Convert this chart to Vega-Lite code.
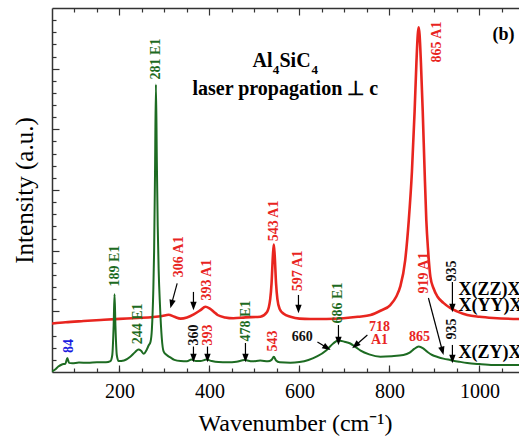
{
  "$schema": "https://vega.github.io/schema/vega-lite/v6.json",
  "width": 467,
  "height": 364,
  "autosize": {"type": "none"},
  "padding": {"left": 52, "top": 8, "right": 0, "bottom": 65},
  "background": "white",
  "config": {"view": {"stroke": null}, "axis": {"grid": false}, "font": "Liberation Serif"},
  "resolve": {"axis": {"x": "independent", "y": "independent"}},
  "datasets": {
    "red": [
      {"wn": 50, "val": 4.0}, {"wn": 80, "val": 4.1}, {"wn": 120, "val": 4.2}, {"wn": 158, "val": 4.29},
      {"wn": 200, "val": 4.38}, {"wn": 240, "val": 4.45}, {"wn": 275, "val": 4.53}, {"wn": 295, "val": 4.62},
      {"wn": 309, "val": 4.72}, {"wn": 322, "val": 4.55}, {"wn": 336, "val": 4.4}, {"wn": 350, "val": 4.5},
      {"wn": 365, "val": 4.75}, {"wn": 380, "val": 5.1}, {"wn": 391, "val": 5.38}, {"wn": 400, "val": 5.25},
      {"wn": 410, "val": 4.95}, {"wn": 418, "val": 4.7}, {"wn": 435, "val": 4.5}, {"wn": 453, "val": 4.43},
      {"wn": 480, "val": 4.5}, {"wn": 513, "val": 4.56}, {"wn": 528, "val": 4.95}, {"wn": 535, "val": 6.0},
      {"wn": 538, "val": 7.3}, {"wn": 541, "val": 9.6}, {"wn": 543, "val": 10.5}, {"wn": 545, "val": 9.6},
      {"wn": 548, "val": 7.3}, {"wn": 551, "val": 6.0}, {"wn": 556, "val": 5.2}, {"wn": 565, "val": 4.8},
      {"wn": 580, "val": 4.56}, {"wn": 600, "val": 4.4}, {"wn": 624, "val": 4.37}, {"wn": 660, "val": 4.37},
      {"wn": 698, "val": 4.43}, {"wn": 730, "val": 4.55}, {"wn": 758, "val": 4.7}, {"wn": 780, "val": 5.05},
      {"wn": 802, "val": 5.52}, {"wn": 815, "val": 6.2}, {"wn": 824, "val": 7.03}, {"wn": 835, "val": 9.2},
      {"wn": 843, "val": 12.5}, {"wn": 850, "val": 16.5}, {"wn": 856, "val": 21.5}, {"wn": 860, "val": 25.5},
      {"wn": 863, "val": 27.8}, {"wn": 865, "val": 28.4}, {"wn": 867, "val": 27.8}, {"wn": 870, "val": 25.5},
      {"wn": 874, "val": 21.5}, {"wn": 878, "val": 16.8}, {"wn": 882, "val": 12.5}, {"wn": 886, "val": 10.0},
      {"wn": 891, "val": 7.86}, {"wn": 898, "val": 6.9}, {"wn": 907, "val": 6.2}, {"wn": 920, "val": 5.7},
      {"wn": 935, "val": 5.28}, {"wn": 950, "val": 5.0}, {"wn": 973, "val": 4.7}, {"wn": 1000, "val": 4.55},
      {"wn": 1031, "val": 4.45}, {"wn": 1088, "val": 4.37}, {"wn": 1150, "val": 4.35}
    ],
    "green": [
      {"wn": 50, "val": 0.05}, {"wn": 57, "val": 0.2}, {"wn": 64, "val": 0.45}, {"wn": 72, "val": 0.62},
      {"wn": 80, "val": 0.7}, {"wn": 84, "val": 1.15}, {"wn": 88, "val": 0.75}, {"wn": 95, "val": 0.72},
      {"wn": 110, "val": 0.78}, {"wn": 130, "val": 0.76}, {"wn": 150, "val": 0.8}, {"wn": 170, "val": 0.8},
      {"wn": 180, "val": 0.9}, {"wn": 184, "val": 1.4}, {"wn": 187, "val": 3.8}, {"wn": 189, "val": 6.4},
      {"wn": 191, "val": 3.8}, {"wn": 194, "val": 1.4}, {"wn": 198, "val": 0.9}, {"wn": 210, "val": 0.95},
      {"wn": 224, "val": 1.26}, {"wn": 235, "val": 1.65}, {"wn": 242, "val": 1.85}, {"wn": 248, "val": 1.75},
      {"wn": 254, "val": 1.5}, {"wn": 260, "val": 1.8}, {"wn": 265, "val": 2.2}, {"wn": 269, "val": 2.5},
      {"wn": 272, "val": 3.5}, {"wn": 275, "val": 6.5}, {"wn": 277, "val": 10}, {"wn": 279, "val": 16.5},
      {"wn": 281, "val": 23.7}, {"wn": 283, "val": 17.5}, {"wn": 285, "val": 12}, {"wn": 287, "val": 8.5},
      {"wn": 290, "val": 5.5}, {"wn": 294, "val": 2.8}, {"wn": 298, "val": 1.7}, {"wn": 305, "val": 1.4},
      {"wn": 313, "val": 1.2}, {"wn": 322, "val": 1.0}, {"wn": 336, "val": 0.9}, {"wn": 350, "val": 0.88},
      {"wn": 360, "val": 1.02}, {"wn": 370, "val": 0.9}, {"wn": 380, "val": 0.9}, {"wn": 393, "val": 1.02},
      {"wn": 405, "val": 0.9}, {"wn": 420, "val": 0.82}, {"wn": 440, "val": 0.8}, {"wn": 460, "val": 0.85},
      {"wn": 478, "val": 0.98}, {"wn": 495, "val": 0.88}, {"wn": 513, "val": 0.95}, {"wn": 530, "val": 0.88},
      {"wn": 538, "val": 1.0}, {"wn": 543, "val": 1.25}, {"wn": 548, "val": 0.95}, {"wn": 556, "val": 0.8},
      {"wn": 580, "val": 0.76}, {"wn": 600, "val": 0.82}, {"wn": 620, "val": 0.99}, {"wn": 640, "val": 1.3},
      {"wn": 660, "val": 1.8}, {"wn": 675, "val": 2.35}, {"wn": 686, "val": 2.6}, {"wn": 700, "val": 2.5},
      {"wn": 713, "val": 2.35}, {"wn": 725, "val": 2.05}, {"wn": 736, "val": 1.76}, {"wn": 755, "val": 1.45},
      {"wn": 780, "val": 1.26}, {"wn": 805, "val": 1.3}, {"wn": 831, "val": 1.4}, {"wn": 845, "val": 1.6},
      {"wn": 855, "val": 1.9}, {"wn": 865, "val": 2.1}, {"wn": 875, "val": 1.95}, {"wn": 884, "val": 1.67},
      {"wn": 895, "val": 1.4}, {"wn": 907, "val": 1.24}, {"wn": 920, "val": 1.1}, {"wn": 935, "val": 0.99},
      {"wn": 955, "val": 0.85}, {"wn": 973, "val": 0.74}, {"wn": 1000, "val": 0.65}, {"wn": 1031, "val": 0.58},
      {"wn": 1060, "val": 0.57}, {"wn": 1100, "val": 0.57}, {"wn": 1150, "val": 0.57}
    ],
    "vlab": [
      {"label": "84", "wn": 87.3, "val": 2.14, "mode": "low"},
      {"label": "189 E1", "wn": 189.3, "val": 8.74, "mode": "E1"},
      {"label": "244 E1", "wn": 242.2, "val": 3.96, "mode": "E1"},
      {"label": "281 E1", "wn": 281.3, "val": 25.8, "mode": "E1"},
      {"label": "306 A1", "wn": 332.7, "val": 9.5, "mode": "A1"},
      {"label": "360", "wn": 366.7, "val": 3.05, "mode": "ref"},
      {"label": "393 A1", "wn": 395.6, "val": 7.58, "mode": "A1"},
      {"label": "393", "wn": 396.7, "val": 3.05, "mode": "A1"},
      {"label": "478 E1", "wn": 482.2, "val": 4.2, "mode": "E1"},
      {"label": "543", "wn": 542, "val": 2.56, "mode": "A1"},
      {"label": "543 A1", "wn": 544.4, "val": 12.45, "mode": "A1"},
      {"label": "597 A1", "wn": 597.8, "val": 8.33, "mode": "A1"},
      {"label": "686 E1", "wn": 686.7, "val": 5.69, "mode": "E1"},
      {"label": "919 A1", "wn": 876.2, "val": 8.16, "mode": "A1"},
      {"label": "935", "wn": 938.9, "val": 8.33, "mode": "ref"},
      {"label": "935", "wn": 938.9, "val": 3.55, "mode": "ref"},
      {"label": "865 A1", "wn": 905.9, "val": 27.2, "mode": "A1"}
    ],
    "hlab": [
      {"label": "660", "wn": 606, "val": 2.89, "mode": "ref"},
      {"label": "718", "wn": 777.8, "val": 3.75, "mode": "A1"},
      {"label": "A1", "wn": 777.8, "val": 2.62, "mode": "A1"},
      {"label": "865", "wn": 866.7, "val": 2.89, "mode": "A1"}
    ],
    "leg": [
      {"label": "X(ZZ)X", "wn": 953.3, "val": 6.78},
      {"label": "X(YY)X", "wn": 953.3, "val": 5.42},
      {"label": "X(ZY)X", "wn": 953.3, "val": 1.57},
      {"label": "(b)", "wn": 1028.9, "val": 27.78}
    ],
    "ttl": [
      {"label": "Al", "wn": 495.6, "val": 25.14},
      {"label": "SiC", "wn": 555.6, "val": 25.14},
      {"label": "laser propagation ⊥ c", "wn": 362.2, "val": 22.84}
    ],
    "sub": [
      {"label": "4", "wn": 540.5, "val": 24.6},
      {"label": "4", "wn": 626.7, "val": 24.6}
    ],
    "arrows": [
      {"wn": 364.4, "val": 6.6, "hx": 364.4, "hy": 5.44, "dir": 180},
      {"wn": 364.4, "val": 2.1, "hx": 364.4, "hy": 1.15, "dir": 180},
      {"wn": 395.6, "val": 2.1, "hx": 395.6, "hy": 1.15, "dir": 180},
      {"wn": 480, "val": 2.39, "hx": 480, "hy": 1.15, "dir": 180},
      {"wn": 597.8, "val": 6.35, "hx": 597.8, "hy": 5.19, "dir": 180},
      {"wn": 686.7, "val": 3.87, "hx": 686.7, "hy": 2.56, "dir": 180},
      {"wn": 940, "val": 7.42, "hx": 940, "hy": 5.28, "dir": 180},
      {"wn": 940, "val": 2.23, "hx": 940, "hy": 1.07, "dir": 180},
      {"wn": 328.2, "val": 7.31, "hx": 315.6, "hy": 5.6, "dir": 195},
      {"wn": 640, "val": 2.47, "hx": 661.3, "hy": 1.99, "dir": 122},
      {"wn": 751, "val": 3.05, "hx": 724.4, "hy": 2.19, "dir": 229},
      {"wn": 886.7, "val": 6.1, "hx": 917.8, "hy": 1.73, "dir": 165}
    ]
  },
  "layer": [
    {
      "data": {"name": "red"},
      "mark": {"type": "line", "color": "#e8251f", "strokeWidth": 2.6, "interpolate": "monotone", "clip": true},
      "encoding": {
        "x": {"field": "wn", "type": "quantitative", "scale": {"domain": [50, 1088], "nice": false, "zero": false},
          "axis": {"orient": "bottom", "values": [200, 400, 600, 800, 1000], "format": "d", "ticks": false, "domain": true, "domainColor": "#333", "domainWidth": 1.5,
            "labelFont": "Liberation Serif", "labelFontSize": 20, "labelColor": "#000", "labelPadding": 9, "labelFlush": false,
            "title": "Wavenumber (cm⁻¹)", "titleFont": "Liberation Serif", "titleFontSize": 24, "titleFontWeight": "normal", "titleColor": "#000",
            "titleX": 243, "titleY": 58, "titleBaseline": "alphabetic", "titleAlign": "center"}},
        "y": {"field": "val", "type": "quantitative", "scale": {"domain": [0, 30], "nice": false, "zero": false},
          "axis": {"orient": "left", "ticks": false, "labels": false, "domain": true, "domainColor": "#333", "domainWidth": 1.5,
            "title": "Intensity (a.u.)", "titleFont": "Liberation Serif", "titleFontSize": 25, "titleFontWeight": "normal", "titleColor": "#000",
            "titleAngle": 270, "titleX": -20, "titleY": 182, "titleBaseline": "alphabetic", "titleAlign": "center"}}
      }
    },
    {
      "data": {"name": "green"},
      "mark": {"type": "line", "color": "#1d6b22", "strokeWidth": 2, "interpolate": "monotone", "clip": true},
      "encoding": {
        "x": {"field": "wn", "type": "quantitative", "scale": {"domain": [50, 1088], "nice": false, "zero": false},
          "axis": {"orient": "bottom", "values": [100, 150, 200, 250, 300, 350, 400, 450, 500, 550, 600, 650, 700, 750, 800, 850, 900, 950, 1000, 1050],
            "tickSize": -4, "tickColor": "#333", "tickWidth": 1.2, "labels": false, "domain": false, "title": null}},
        "y": {"field": "val", "type": "quantitative", "scale": {"domain": [0, 30], "nice": false, "zero": false},
          "axis": {"orient": "left", "values": [1, 2, 3, 4, 6, 7, 8, 9, 11, 12, 13, 14, 16, 17, 18, 19, 21, 22, 23, 24, 26, 27, 28, 29],
            "tickSize": -4, "tickColor": "#333", "tickWidth": 1.2, "labels": false, "domain": false, "title": null}}
      }
    },
    {
      "data": {"name": "arrows"},
      "mark": {"type": "rule", "color": "#000", "strokeWidth": 1.2},
      "encoding": {
        "x": {"field": "wn", "type": "quantitative", "scale": {"domain": [50, 1088], "nice": false, "zero": false}, "axis": null},
        "y": {"field": "val", "type": "quantitative", "scale": {"domain": [0, 30], "nice": false, "zero": false}, "axis": null},
        "x2": {"field": "hx"},
        "y2": {"field": "hy"}
      }
    },
    {
      "data": {"name": "arrows"},
      "mark": {"type": "point", "filled": true, "opacity": 1, "color": "#000", "shape": "M0,-1L-0.75,1L0.75,1Z", "size": 72},
      "encoding": {
        "x": {"field": "hx", "type": "quantitative", "scale": {"domain": [50, 1088], "nice": false, "zero": false}, "axis": null},
        "y": {"field": "hy", "type": "quantitative", "scale": {"domain": [0, 30], "nice": false, "zero": false}, "axis": null},
        "angle": {"field": "dir", "type": "quantitative", "scale": null}
      }
    },
    {
      "data": {"name": "vlab"},
      "mark": {"type": "text", "angle": 270, "font": "Liberation Serif", "fontWeight": "bold", "fontSize": 14, "align": "center", "baseline": "middle"},
      "encoding": {
        "x": {"field": "wn", "type": "quantitative", "scale": {"domain": [50, 1088], "nice": false, "zero": false},
          "axis": {"orient": "bottom", "values": [200, 400, 600, 800, 1000], "tickSize": -7, "tickColor": "#333", "tickWidth": 1.2, "labels": false, "domain": false, "title": null}},
        "y": {"field": "val", "type": "quantitative", "scale": {"domain": [0, 30], "nice": false, "zero": false},
          "axis": {"orient": "left", "values": [5, 10, 15, 20, 25], "tickSize": -7, "tickColor": "#333", "tickWidth": 1.2, "labels": false, "domain": false, "title": null}},
        "text": {"field": "label"},
        "color": {"field": "mode", "type": "nominal", "scale": {"domain": ["A1", "E1", "ref", "low"], "range": ["#e8251f", "#1d6b22", "#111111", "#1a1adf"]}, "legend": null}
      }
    },
    {
      "data": {"name": "hlab"},
      "mark": {"type": "text", "font": "Liberation Serif", "fontWeight": "bold", "fontSize": 14, "align": "center", "baseline": "middle"},
      "encoding": {
        "x": {"field": "wn", "type": "quantitative", "scale": {"domain": [50, 1088], "nice": false, "zero": false},
          "axis": {"orient": "top", "values": [200, 400, 600, 800, 1000], "tickSize": -7, "tickColor": "#333", "tickWidth": 1.2, "labels": false, "domain": true, "domainColor": "#333", "domainWidth": 1.5, "title": null}},
        "y": {"field": "val", "type": "quantitative", "scale": {"domain": [0, 30], "nice": false, "zero": false}, "axis": null},
        "text": {"field": "label"},
        "color": {"field": "mode", "type": "nominal", "scale": {"domain": ["A1", "E1", "ref", "low"], "range": ["#e8251f", "#1d6b22", "#111111", "#1a1adf"]}, "legend": null}
      }
    },
    {
      "data": {"name": "leg"},
      "mark": {"type": "text", "font": "Liberation Serif", "fontWeight": "bold", "fontSize": 18, "align": "left", "baseline": "middle", "color": "#000"},
      "encoding": {
        "x": {"field": "wn", "type": "quantitative", "scale": {"domain": [50, 1088], "nice": false, "zero": false},
          "axis": {"orient": "top", "values": [100, 150, 250, 300, 350, 450, 500, 550, 650, 700, 750, 850, 900, 950, 1050],
            "tickSize": -4, "tickColor": "#333", "tickWidth": 1.2, "labels": false, "domain": false, "title": null}},
        "y": {"field": "val", "type": "quantitative", "scale": {"domain": [0, 30], "nice": false, "zero": false}, "axis": null},
        "text": {"field": "label"}
      }
    },
    {
      "data": {"name": "ttl"},
      "mark": {"type": "text", "font": "Liberation Serif", "fontWeight": "bold", "fontSize": 20, "align": "left", "baseline": "alphabetic", "color": "#000"},
      "encoding": {
        "x": {"field": "wn", "type": "quantitative", "scale": {"domain": [50, 1088], "nice": false, "zero": false}, "axis": null},
        "y": {"field": "val", "type": "quantitative", "scale": {"domain": [0, 30], "nice": false, "zero": false}, "axis": null},
        "text": {"field": "label"}
      }
    },
    {
      "data": {"name": "sub"},
      "mark": {"type": "text", "font": "Liberation Serif", "fontWeight": "bold", "fontSize": 13, "align": "left", "baseline": "alphabetic", "color": "#000"},
      "encoding": {
        "x": {"field": "wn", "type": "quantitative", "scale": {"domain": [50, 1088], "nice": false, "zero": false}, "axis": null},
        "y": {"field": "val", "type": "quantitative", "scale": {"domain": [0, 30], "nice": false, "zero": false}, "axis": null},
        "text": {"field": "label"}
      }
    }
  ]
}
